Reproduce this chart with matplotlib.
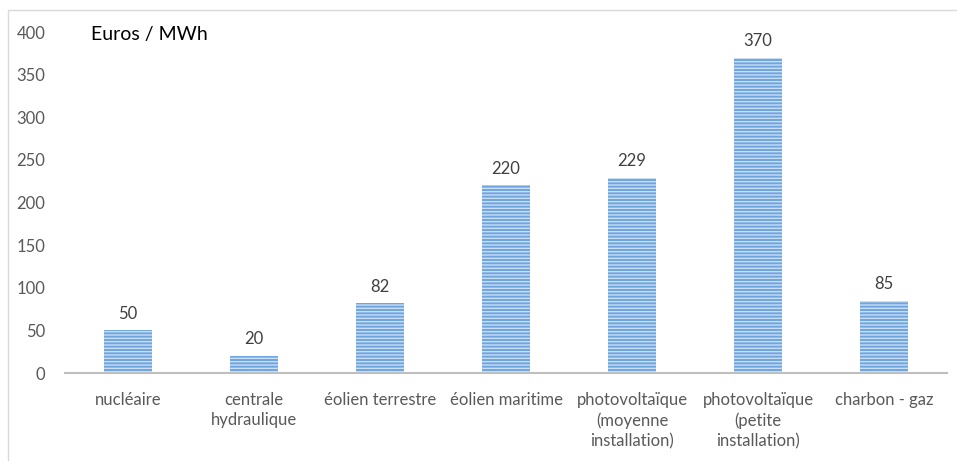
import matplotlib
matplotlib.use("Agg")
from matplotlib import pyplot as plt
from matplotlib.patches import Rectangle

categories = ["nucléaire", "centrale\nhydraulique", "éolien terrestre", "éolien maritime",
              "photovoltaïque\n(moyenne\ninstallation)", "photovoltaïque\n(petite\ninstallation)",
              "charbon - gaz"]
values = [50, 20, 82, 220, 229, 370, 85]
yticks = [0, 50, 100, 150, 200, 250, 300, 350, 400]

plt.rcParams['font.family'] = ['Lato', 'DejaVu Sans']
plt.rcParams['hatch.linewidth'] = 1.0

fig = plt.figure(figsize=(9.57, 4.61), dpi=100)
ax = fig.add_axes([65 / 957, (461 - 373) / 461, 882 / 957, 341 / 461])

x = range(len(categories))
bars = ax.bar(x, values, width=0.38, color='#6fa5df', edgecolor='#c9ddf3',
              hatch='-----', linewidth=0)
for xi, v in zip(x, values):
    ax.text(xi, v + 10, str(v), ha='center', va='bottom', fontsize=12, color='#404040')

ax.set_xlim(-0.5, len(categories) - 0.5)
ax.set_ylim(0, 400)
ax.set_yticks(yticks)
ax.set_xticks(list(x))
ax.set_xticklabels(categories, fontsize=12, color='#595959', linespacing=1.3)
ax.tick_params(axis='y', labelsize=12, labelcolor='#595959', length=0, pad=14)
ax.tick_params(axis='x', length=0, pad=14)
for s in ['top', 'right', 'left']:
    ax.spines[s].set_visible(False)
ax.spines['bottom'].set_color('#bfbfbf')
ax.spines['bottom'].set_linewidth(1.5)

ax.text(-0.29, 397, "Euros / MWh", fontsize=14, color='black', va='center')

fig.patches.append(Rectangle((8 / 957, -0.1), 1.1, (461 - 10) / 461 + 0.1,
                             transform=fig.transFigure, fill=False,
                             edgecolor='#d9d9d9', linewidth=1, zorder=0))

fig.savefig("out.png", dpi=100)
